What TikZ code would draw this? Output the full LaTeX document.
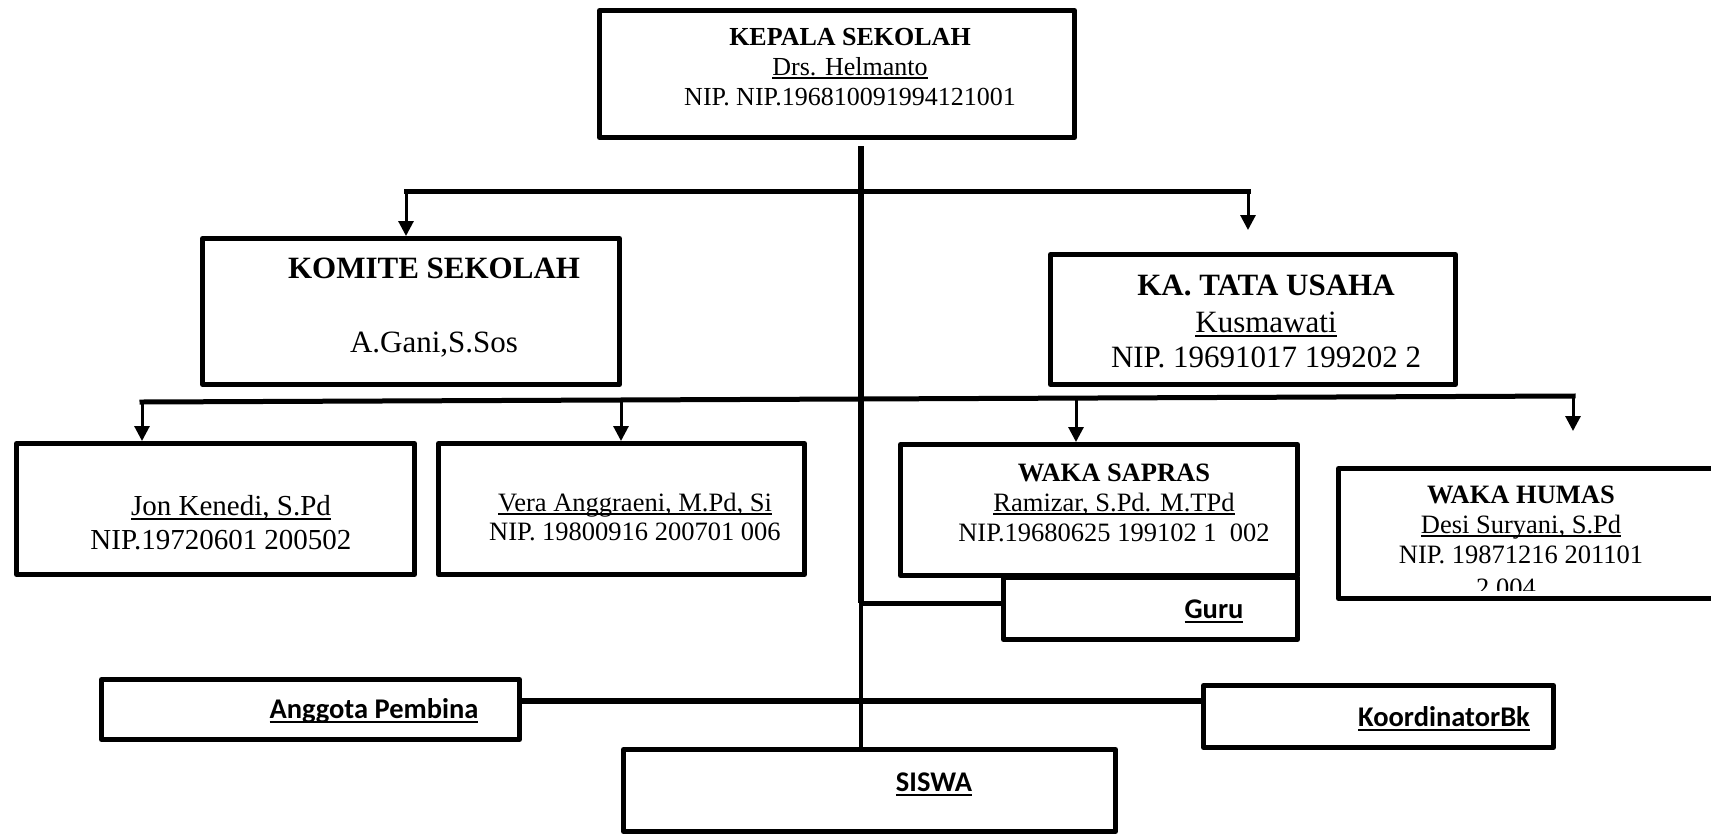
\documentclass[tikz,border=0pt]{standalone}
\usepackage{fontspec}
\setmainfont{Liberation Serif}
\newfontfamily\calfont{Carlito}
\usetikzlibrary{arrows.meta}
\newcommand{\myul}[1]{\setbox0\hbox{#1}\rlap{\rule[-0.16em]{\wd0}{0.07em}}\box0}
\begin{document}
\begin{tikzpicture}[x=1pt,y=-1pt,
  box/.style={draw, line width=5pt, line join=round, fill=white, inner sep=0pt},
  hline/.style={line width=5pt, line cap=rect},
  drop/.style={line width=3pt, -{Triangle[width=15pt,length=15pt]}},
  txt/.style={anchor=base, inner sep=0pt},
  fA/.style={font=\fontsize{26}{31}\selectfont},
  fB/.style={font=\fontsize{31}{36}\selectfont},
  fC/.style={font=\fontsize{29}{34}\selectfont},
  fD/.style={font=\fontsize{26.5}{31}\selectfont},
  fE/.style={font=\calfont\bfseries\fontsize{28.5}{34}\selectfont}]
\useasboundingbox (0,0) rectangle (1711,836);

% boxes
\node[box, minimum width=475pt, minimum height=127pt] (kepala) at (837,74) {};
\node[box, minimum width=417pt, minimum height=146pt] (komite) at (411,311.5) {};
\node[box, minimum width=405pt, minimum height=130pt] (katu) at (1253,319.5) {};
\node[box, minimum width=398pt, minimum height=131pt] (jon) at (215.5,509) {};
\node[box, minimum width=366pt, minimum height=131pt] (vera) at (621.5,509) {};
\node[box, minimum width=397pt, minimum height=131pt] (sapras) at (1099,510) {};
\node[box, minimum width=384pt, minimum height=130pt] (humas) at (1530.5,533.5) {};
\node[box, minimum width=294pt, minimum height=62pt] (guru) at (1150.5,608.5) {};
\node[box, minimum width=418pt, minimum height=60pt] (anggota) at (310.5,709.5) {};
\node[box, minimum width=350pt, minimum height=62pt] (koord) at (1378.5,716.5) {};
\node[box, minimum width=492pt, minimum height=82pt] (siswa) at (869.5,790.5) {};

% junction coordinates
\coordinate (jtop) at (861,191);
\coordinate (jguru) at (861,603);
\coordinate (jbar) at (861,701);
\coordinate (tl) at (406,191);
\coordinate (tr) at (1248,191);
\coordinate (bl) at (142,402);
\coordinate (bv) at (621,400);
\coordinate (bs) at (1076,398);
\coordinate (br) at (1573,396);

% connectors
\draw[line width=6pt] ([yshift=-6pt]kepala.south -| jtop) -- (jguru);
\draw[line width=4pt] (jguru) -- (siswa.north -| jtop);
\draw[hline] (tl) -- (tr);
\draw[drop] (tl) -- (komite.north -| tl);
\draw[drop] (tr) -- ([yshift=22pt]katu.north -| tr);
\draw[hline] (bl) -- (br);
\draw[drop] (bl) -- (jon.north -| bl);
\draw[drop] (bv) -- (vera.north -| bv);
\draw[drop] (bs) -- (sapras.north -| bs);
\draw[drop] (br) -- ([yshift=35pt]humas.north -| br);
\draw[line width=5pt] (jguru) -- (guru.west |- jguru);
\draw[line width=6pt] (anggota.east |- jbar) -- (koord.west |- jbar);

% texts
\node[txt, fA] (kepala1) at (850,45) {\bfseries KEPALA SEKOLAH};
\node[txt, fA] (kepala2) at (850,75) {\myul{Drs. Helmanto}};
\node[txt, fA] (kepala3) at (850,105) {NIP. NIP.196810091994121001};

\node[txt, fB] (komite1) at (434,278) {\bfseries KOMITE SEKOLAH};
\node[txt, fB] (komite2) at (434,352) {A.Gani,S.Sos};

\node[txt, fB] (katu1) at (1266,295) {\bfseries KA. TATA USAHA};
\node[txt, fB] (katu2) at (1266,332) {\myul{Kusmawati}};
\node[txt, fB] (katu3) at (1266,367) {NIP. 19691017 199202 2};

\node[txt, fC] (jon1) at (231,515) {\myul{Jon Kenedi, S.Pd}};
\node[txt, fC] (jon2) at (221,549) {NIP.19720601 200502};

\node[txt, fD] (vera1) at (635,511) {\myul{Vera Anggraeni, M.Pd, Si}};
\node[txt, fD] (vera2) at (635,540) {NIP. 19800916 200701 006};

\node[txt, fD] (sapras1) at (1114,481) {\bfseries WAKA SAPRAS};
\node[txt, fD] (sapras2) at (1114,511) {\myul{Ramizar, S.Pd. M.TPd}};
\node[txt, fD] (sapras3) at (1114,541) {NIP.19680625 199102 1\ \ 002};

\node[txt, fD] (humas1) at (1521,503) {\bfseries WAKA HUMAS};
\node[txt, fD] (humas2) at (1521,533) {\myul{Desi Suryani, S.Pd}};
\node[txt, fD] (humas3) at (1521,563) {NIP. 19871216 201101};
\begin{scope}
\clip (1340,560) rectangle (1700,590);
\node[txt, fD] (humas4) at (1506,596) {2 004};
\end{scope}

\node[txt, fE] (guruT) at (1214,618) {\myul{Guru}};
\node[txt, fE] (anggotaT) at (374,718) {\myul{Anggota Pembina}};
\node[txt, fE] (koordT) at (1444,726) {\myul{KoordinatorBk}};
\node[txt, fE] (siswaT) at (934,791) {\myul{SISWA}};
\end{tikzpicture}
\end{document}
